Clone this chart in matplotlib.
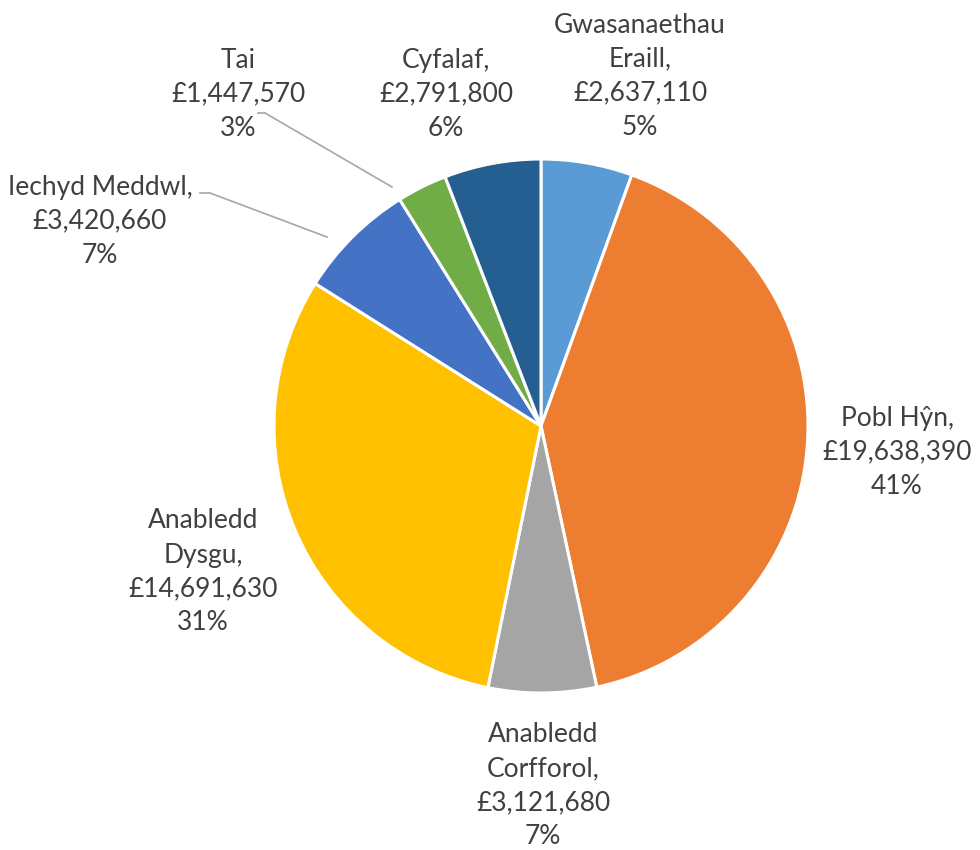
import matplotlib
matplotlib.use("Agg")
import matplotlib.pyplot as plt

# Budget by service area (£)
categories = ["Gwasanaethau\nEraill", "Pobl Hŷn", "Anabledd\nCorfforol",
              "Anabledd\nDysgu", "Iechyd Meddwl", "Tai", "Cyfalaf"]
values = [2637110, 19638390, 3121680, 14691630, 3420660, 1447570, 2791800]
pct_labels = ["5%", "41%", "7%", "31%", "7%", "3%", "6%"]
colors = ["#5B9BD5", "#ED7D31", "#A5A5A5", "#FFC000", "#4472C4", "#70AD47", "#255E91"]

plt.rcParams["font.family"] = ["Lato", "DejaVu Sans"]

W, H = 980, 850
fig = plt.figure(figsize=(W / 100, H / 100), dpi=100)
ax = fig.add_axes([0, 0, 1, 1])
ax.set_xlim(0, W)
ax.set_ylim(0, H)
ax.set_aspect("equal")
ax.axis("off")

cx, cy, r = 541, H - 426, 267
ax.pie(values, colors=colors, startangle=90, counterclock=False,
       center=(cx, cy), radius=r, frame=True,
       wedgeprops=dict(edgecolor="white", linewidth=2.2))
ax.set_xlim(0, W)
ax.set_ylim(0, H)
ax.axis("off")

def money(v):
    return "£{:,}".format(v)

# label text: name with comma on last line of name (except Tai), money, percent
label_texts = []
for name, v, p in zip(categories, values, pct_labels):
    if name == "Tai":
        label_texts.append(f"{name}\n{money(v)}\n{p}")
    else:
        label_texts.append(f"{name},\n{money(v)}\n{p}")

# label centres in pixel coordinates (x, y from top)
label_pos = [(640, 76), (897, 452), (543, 786), (203, 572),
             (100, 221), (238, 94), (446, 94)]

txt_color = "#404040"
for t, (px, py) in zip(label_texts, label_pos):
    ax.text(px, H - py, t, ha="center", va="center", fontsize=19,
            color=txt_color, linespacing=1.45, multialignment="center")

# leader lines for the small slices
lc = "#A6A6A6"
ax.plot([258, 265, 392], [H - 113, H - 113, H - 187], color=lc, lw=1.2)
ax.plot([200, 210, 327], [H - 193, H - 193, H - 237], color=lc, lw=1.2)

fig.savefig("out.png", dpi=100, facecolor="white")
